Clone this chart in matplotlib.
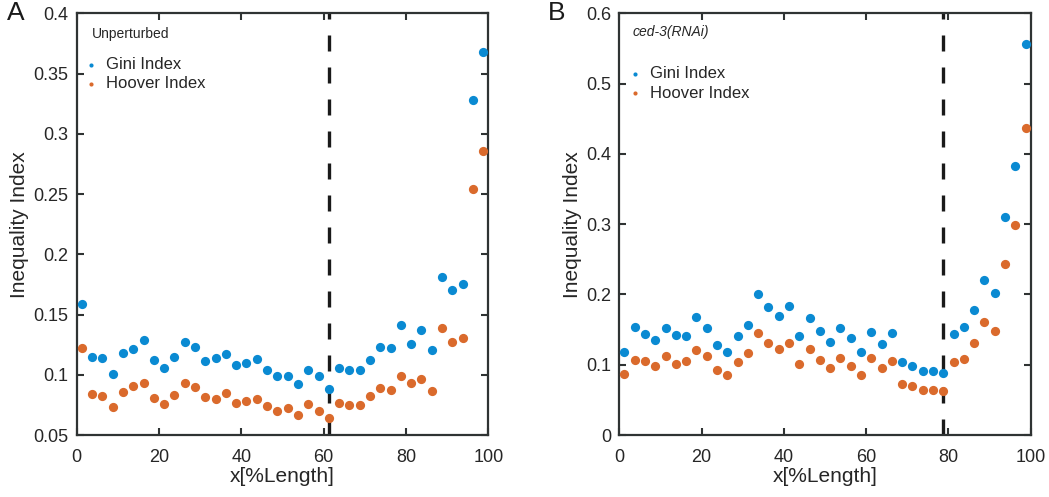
import numpy as np
import matplotlib
matplotlib.use("Agg")
import matplotlib.pyplot as plt

plt.rcParams['font.family'] = ['Liberation Sans', 'DejaVu Sans']

# x positions (% length), 40 bins
x_pos = [1.25 + 2.5 * i for i in range(40)]

gini_A = [0.159, 0.1145, 0.1137, 0.1006, 0.1178, 0.1217, 0.1289, 0.1123, 0.1056, 0.1145,
          0.1275, 0.1233, 0.1117, 0.1139, 0.1175, 0.1081, 0.1095, 0.1128, 0.1040, 0.0987,
          0.0987, 0.0923, 0.1040, 0.0987, 0.0885, 0.1059, 0.1037, 0.1037, 0.1123, 0.1233,
          0.1225, 0.1416, 0.1255, 0.1369, 0.1203, 0.1812, 0.1701, 0.1751, 0.3283, 0.3676]
hoover_A = [0.1225, 0.0843, 0.0824, 0.0732, 0.0860, 0.0910, 0.0932, 0.0804, 0.0757, 0.0835,
            0.0935, 0.0896, 0.0818, 0.0796, 0.0849, 0.0763, 0.0779, 0.0799, 0.0743, 0.0702,
            0.0727, 0.0663, 0.0757, 0.0702, 0.0644, 0.0763, 0.0752, 0.0752, 0.0821, 0.0893,
            0.0877, 0.0990, 0.0929, 0.0962, 0.0863, 0.1388, 0.1272, 0.1308, 0.2542, 0.2855]

gini_B = [0.1181, 0.1532, 0.1442, 0.1347, 0.1523, 0.1418, 0.1404, 0.1679, 0.1518, 0.1281,
          0.1181, 0.1409, 0.1560, 0.2011, 0.1826, 0.1693, 0.1840, 0.1409, 0.1665, 0.1485,
          0.1328, 0.1518, 0.1375, 0.1176, 0.1470, 0.1300, 0.1456, 0.1034, 0.0977, 0.0911,
          0.0911, 0.0877, 0.1442, 0.1532, 0.1783, 0.2206, 0.2025, 0.3097, 0.3828, 0.5568]
hoover_B = [0.0868, 0.1062, 0.1053, 0.0982, 0.1124, 0.1015, 0.1058, 0.1209, 0.1119, 0.0925,
            0.0849, 0.1034, 0.1167, 0.1447, 0.1309, 0.1228, 0.1309, 0.1006, 0.1228, 0.1062,
            0.0953, 0.1100, 0.0987, 0.0849, 0.1091, 0.0953, 0.1048, 0.0730, 0.0702, 0.0640,
            0.0640, 0.0626, 0.1043, 0.1086, 0.1304, 0.1608, 0.1475, 0.2433, 0.2983, 0.4373]

cutoff_A = 61.25
cutoff_B = 78.75

blue = '#0a8ad2'
orange = '#da6a2c'
axcol = '#2f3333'

fig = plt.figure(figsize=(10.49, 4.97), dpi=100)
axA = fig.add_axes([0.0731, 0.1247, 0.3924, 0.8485])
axB = fig.add_axes([0.5904, 0.1247, 0.3922, 0.8485])


def style(ax, ylim, yticks, yticklabels):
    ax.set_xlim(0, 100)
    ax.set_ylim(*ylim)
    ax.set_xticks([0, 20, 40, 60, 80, 100])
    ax.set_yticks(yticks)
    ax.set_yticklabels(yticklabels)
    ax.tick_params(direction='in', top=True, right=True, length=5, width=1.5,
                   color=axcol, labelsize=13, labelcolor='#262626')
    ax.tick_params(axis='x', pad=10)
    ax.tick_params(axis='y', pad=6)
    for s in ax.spines.values():
        s.set_linewidth(1.6)
        s.set_color(axcol)
    ax.set_xlabel('x[%Length]', fontsize=15, color='#262626', labelpad=1)
    ax.set_ylabel('Inequality Index', fontsize=15, color='#262626', labelpad=3)


def draw(ax, g, h, cut, title, title_style, tx, ty, leg_anchor):
    ax.scatter(x_pos, g, s=44, color=blue, linewidths=0, zorder=3, label='Gini Index')
    ax.scatter(x_pos, h, s=44, color=orange, linewidths=0, zorder=3, label='Hoover Index')
    ln = ax.axvline(cut, color='#1a1a1a', linewidth=2.4, zorder=2)
    ln.set_dashes([4.8, 4.8])
    ax.text(tx, ty, title, transform=ax.transAxes, fontsize=10, style=title_style,
            color='#262626', va='center', ha='left')
    leg = ax.legend(loc='upper left', bbox_to_anchor=leg_anchor, frameon=False,
                    fontsize=12, markerscale=0.45, handletextpad=0.3, handlelength=1.2,
                    borderaxespad=0, labelspacing=0.25)
    for t in leg.get_texts():
        t.set_color('#262626')


style(axA, (0.05, 0.4), [0.05, 0.1, 0.15, 0.2, 0.25, 0.3, 0.35, 0.4],
      ['0.05', '0.1', '0.15', '0.2', '0.25', '0.3', '0.35', '0.4'])
style(axB, (0, 0.6), [0, 0.1, 0.2, 0.3, 0.4, 0.5, 0.6],
      ['0', '0.1', '0.2', '0.3', '0.4', '0.5', '0.6'])

draw(axA, gini_A, hoover_A, cutoff_A, 'Unperturbed', 'normal', 0.038, 0.951, (-0.005, 0.912))
draw(axB, gini_B, hoover_B, cutoff_B, 'ced-3(RNAi)', 'italic', 0.033, 0.956, (-0.002, 0.89))

fig.text(0.007, 0.973, 'A', fontsize=19, color='#1a1a1a', va='center', ha='left')
fig.text(0.522, 0.973, 'B', fontsize=19, color='#1a1a1a', va='center', ha='left')

fig.savefig('out.png', dpi=100)
